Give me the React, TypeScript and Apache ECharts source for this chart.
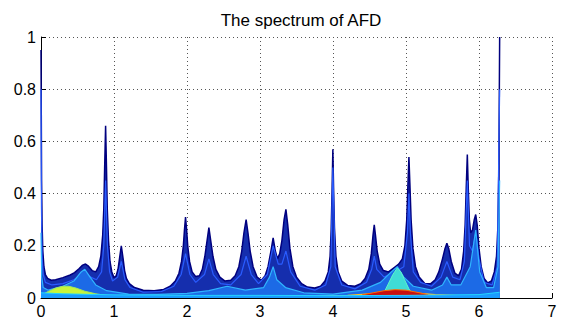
import React, { useEffect, useRef } from "react";
import * as echarts from "echarts";

const titleText = "The spectrum of AFD";
const xTicks = [0, 1, 2, 3, 4, 5, 6, 7];
const yTicks = [0, 0.2, 0.4, 0.6, 0.8, 1];

// Outer envelope of all spectra (darkest curves)
const envelope: [number, number][] = [
  [0, 0.95], [0.004, 0.7], [0.008, 0.45], [0.015, 0.28], [0.025, 0.18], [0.04, 0.12],
  [0.06, 0.09], [0.09, 0.075], [0.14, 0.068], [0.2, 0.07], [0.3, 0.078], [0.4, 0.088],
  [0.46, 0.097], [0.52, 0.112], [0.57, 0.126], [0.61, 0.13], [0.65, 0.122], [0.7, 0.105],
  [0.75, 0.1], [0.79, 0.12], [0.82, 0.16], [0.845, 0.24], [0.86, 0.34], [0.872, 0.5],
  [0.885, 0.66], [0.897, 0.5], [0.908, 0.34], [0.925, 0.22], [0.945, 0.14], [0.97, 0.1],
  [1.0, 0.078], [1.03, 0.085], [1.055, 0.11], [1.075, 0.15], [1.1, 0.2], [1.125, 0.15],
  [1.145, 0.105], [1.17, 0.075], [1.21, 0.055], [1.28, 0.04], [1.4, 0.03], [1.55, 0.028],
  [1.68, 0.033], [1.77, 0.045], [1.84, 0.065], [1.89, 0.095], [1.925, 0.14], [1.95, 0.2],
  [1.965, 0.26], [1.98, 0.31], [1.995, 0.26], [2.01, 0.2], [2.035, 0.14], [2.07, 0.1],
  [2.12, 0.082], [2.17, 0.085], [2.21, 0.11], [2.245, 0.16], [2.275, 0.22], [2.3, 0.27],
  [2.325, 0.22], [2.355, 0.16], [2.395, 0.11], [2.45, 0.08], [2.52, 0.065], [2.6, 0.068],
  [2.66, 0.085], [2.71, 0.12], [2.75, 0.18], [2.78, 0.25], [2.81, 0.3], [2.835, 0.25],
  [2.865, 0.18], [2.905, 0.12], [2.96, 0.08], [3.02, 0.068], [3.07, 0.085], [3.11, 0.12],
  [3.15, 0.18], [3.18, 0.23], [3.21, 0.18], [3.24, 0.15], [3.27, 0.17], [3.3, 0.22],
  [3.33, 0.3], [3.355, 0.34], [3.38, 0.28], [3.41, 0.19], [3.45, 0.12], [3.5, 0.08],
  [3.57, 0.055], [3.65, 0.042], [3.75, 0.038], [3.83, 0.045], [3.89, 0.065], [3.935, 0.1],
  [3.96, 0.16], [3.975, 0.26], [3.988, 0.42], [3.998, 0.57], [4.008, 0.42], [4.02, 0.27],
  [4.04, 0.16], [4.07, 0.1], [4.12, 0.065], [4.2, 0.048], [4.3, 0.045], [4.38, 0.055],
  [4.44, 0.075], [4.49, 0.11], [4.525, 0.17], [4.548, 0.24], [4.565, 0.28], [4.582, 0.24],
  [4.605, 0.18], [4.64, 0.13], [4.69, 0.105], [4.76, 0.1], [4.83, 0.115], [4.9, 0.13],
  [4.95, 0.15], [4.985, 0.2], [5.01, 0.3], [5.027, 0.44], [5.04, 0.54], [5.053, 0.44],
  [5.07, 0.3], [5.095, 0.19], [5.13, 0.12], [5.18, 0.08], [5.26, 0.055], [5.34, 0.055],
  [5.4, 0.07], [5.45, 0.1], [5.5, 0.15], [5.535, 0.19], [5.56, 0.21], [5.585, 0.19],
  [5.62, 0.14], [5.67, 0.095], [5.72, 0.085], [5.76, 0.11], [5.79, 0.18], [5.81, 0.28],
  [5.825, 0.42], [5.84, 0.55], [5.853, 0.42], [5.868, 0.3], [5.885, 0.25], [5.91, 0.26],
  [5.935, 0.3], [5.955, 0.32], [5.975, 0.28], [6.0, 0.19], [6.03, 0.12], [6.07, 0.075],
  [6.12, 0.058], [6.17, 0.065], [6.21, 0.1], [6.24, 0.16], [6.26, 0.28], [6.272, 0.5],
  [6.283, 1.0],
];

// Inner, brighter blue spectrum
const innerBlue: [number, number][] = [
  [0, 0.8], [0.006, 0.35], [0.015, 0.16], [0.03, 0.09], [0.06, 0.06], [0.15, 0.05],
  [0.3, 0.055], [0.45, 0.07], [0.55, 0.09], [0.61, 0.1], [0.68, 0.08], [0.76, 0.07],
  [0.83, 0.1], [0.86, 0.2], [0.885, 0.45], [0.91, 0.2], [0.94, 0.1], [0.98, 0.065],
  [1.05, 0.08], [1.1, 0.14], [1.15, 0.07], [1.22, 0.04], [1.4, 0.022], [1.65, 0.025],
  [1.82, 0.045], [1.92, 0.09], [1.98, 0.17], [2.04, 0.09], [2.12, 0.06], [2.24, 0.09],
  [2.3, 0.15], [2.36, 0.09], [2.46, 0.055], [2.6, 0.05], [2.74, 0.09], [2.81, 0.16],
  [2.88, 0.09], [2.98, 0.055], [3.1, 0.09], [3.18, 0.2], [3.25, 0.13], [3.3, 0.13],
  [3.355, 0.18], [3.42, 0.1], [3.55, 0.045], [3.75, 0.03], [3.9, 0.05], [3.97, 0.12],
  [3.998, 0.5], [4.03, 0.12], [4.12, 0.05], [4.3, 0.035], [4.46, 0.06], [4.53, 0.11],
  [4.565, 0.16], [4.6, 0.11], [4.7, 0.08], [4.85, 0.1], [4.97, 0.12], [5.02, 0.25],
  [5.04, 0.4], [5.06, 0.25], [5.1, 0.1], [5.2, 0.06], [5.35, 0.045], [5.48, 0.08],
  [5.56, 0.14], [5.64, 0.08], [5.74, 0.07], [5.8, 0.14], [5.84, 0.45], [5.87, 0.2],
  [5.91, 0.18], [5.955, 0.25], [6.0, 0.15], [6.07, 0.06], [6.18, 0.05], [6.25, 0.12],
  [6.283, 0.8],
];

// Light-blue / cyan spectrum
const cyanSpec: [number, number][] = [
  [0, 0.25], [0.01, 0.08], [0.03, 0.04], [0.1, 0.03], [0.3, 0.045], [0.45, 0.065],
  [0.55, 0.1], [0.6, 0.11], [0.66, 0.085], [0.75, 0.05], [0.9, 0.028], [1.2, 0.015],
  [1.6, 0.014], [2.0, 0.018], [2.3, 0.028], [2.55, 0.045], [2.8, 0.03], [3.05, 0.04],
  [3.13, 0.08], [3.18, 0.12], [3.23, 0.07], [3.35, 0.04], [3.6, 0.02], [4.0, 0.015],
  [4.4, 0.03], [4.65, 0.06], [4.8, 0.1], [4.88, 0.12], [4.97, 0.08], [5.1, 0.045],
  [5.35, 0.03], [5.5, 0.05], [5.56, 0.08], [5.62, 0.05], [5.75, 0.05], [5.88, 0.12],
  [5.955, 0.26], [6.01, 0.1], [6.1, 0.04], [6.2, 0.04], [6.26, 0.12], [6.283, 0.45],
];

// Aquamarine cap at 4.9
const aquaSpec: [number, number][] = [
  [4.68, 0.01], [4.75, 0.05], [4.82, 0.09], [4.88, 0.115], [4.93, 0.1], [4.98, 0.07],
  [5.04, 0.035], [5.1, 0.01],
];

// Yellow-green hump near 0.35
const yellowSpec: [number, number][] = [
  [0.03, 0.015], [0.1, 0.025], [0.2, 0.038], [0.3, 0.045], [0.38, 0.045], [0.48, 0.038],
  [0.6, 0.026], [0.75, 0.016], [0.9, 0.01],
];

// Orange/yellow thin spectrum under the red hump
const orangeSpec: [number, number][] = [
  [3.8, 0.006], [4.2, 0.01], [4.5, 0.016], [4.8, 0.022], [5.1, 0.02], [5.4, 0.013],
  [5.8, 0.008],
];

// Red hump near 4.9
const redSpec: [number, number][] = [
  [4.4, 0.012], [4.55, 0.02], [4.7, 0.028], [4.85, 0.032], [5.0, 0.03], [5.15, 0.022],
  [5.3, 0.013],
];

// Cyan baseline spectrum
const baseSpec: [number, number][] = [
  [0, 0.02], [0.3, 0.016], [1.0, 0.012], [2.0, 0.01], [3.0, 0.01], [4.0, 0.009],
  [5.0, 0.01], [6.0, 0.013], [6.283, 0.022],
];

export default function App() {
  const ref = useRef<HTMLDivElement>(null);
  useEffect(() => {
    if (!ref.current) return;
    const chart = echarts.init(ref.current, null, { renderer: "svg" });
    const font = "Liberation Sans";
    const line = (data: [number, number][], lc: string, ac: string | null, w = 1, z = 2) => ({
      type: "line",
      data,
      showSymbol: false,
      symbol: "none",
      smooth: false,
      z,
      lineStyle: { color: lc, width: w },
      areaStyle: ac ? { color: ac, opacity: 1 } : undefined,
    });
    chart.setOption({
      animation: false,
      backgroundColor: "#ffffff",
      title: {
        text: titleText,
        left: 296,
        top: 7,
        textAlign: "center",
        textStyle: { fontFamily: font, fontSize: 17, fontWeight: "normal", color: "#000" },
      },
      grid: { left: 41, right: 16, top: 37, bottom: 29, containLabel: false },
      xAxis: {
        type: "value",
        min: 0,
        max: 7,
        interval: 1,
        axisLine: { show: true, lineStyle: { color: "#000", width: 1 } },
        axisTick: { show: true, inside: true, length: 5, lineStyle: { color: "#000" } },
        axisLabel: {
          fontFamily: font,
          fontSize: 16,
          color: "#000",
          margin: 5,
          formatter: (v: number) => (xTicks.includes(v) ? String(v) : ""),
        },
        splitLine: { show: true, lineStyle: { color: "#555", type: [1, 3], width: 1 } },
      },
      yAxis: {
        type: "value",
        min: 0,
        max: 1,
        interval: 0.2,
        axisLine: { show: true, lineStyle: { color: "#000", width: 1 } },
        axisTick: { show: true, inside: true, length: 5, lineStyle: { color: "#000" } },
        axisLabel: {
          fontFamily: font,
          fontSize: 16,
          color: "#000",
          margin: 5,
          formatter: (v: number) => {
            const t = yTicks.find((y) => Math.abs(y - v) < 1e-9);
            return t === undefined ? "" : String(t);
          },
        },
        splitLine: { show: true, lineStyle: { color: "#555", type: [1, 3], width: 1 } },
      },
      series: [
        line(envelope, "#00007f", "#152ead", 1.5, 2),
        line(innerBlue, "#2a5cff", null, 1.2, 3),
        line(cyanSpec, "#2fb4ff", "#1c6ae6", 1.2, 4),
        line(aquaSpec, "#5ff5c8", "#3fdcd6", 1, 5),
        line(yellowSpec, "#9fe860", "#c8f53a", 1, 5),
        line(orangeSpec, "#ffc020", null, 1.2, 6),
        line(redSpec, "#ff6a00", "#c81010", 1, 7),
        line(baseSpec, "#22d4ff", "#1a9cff", 1, 8),
      ],
    });
    return () => chart.dispose();
  }, []);
  return (
    <div
      ref={ref}
      style={{ position: "fixed", left: 0, top: 0, width: 568, height: 327, background: "#fff" }}
    />
  );
}
